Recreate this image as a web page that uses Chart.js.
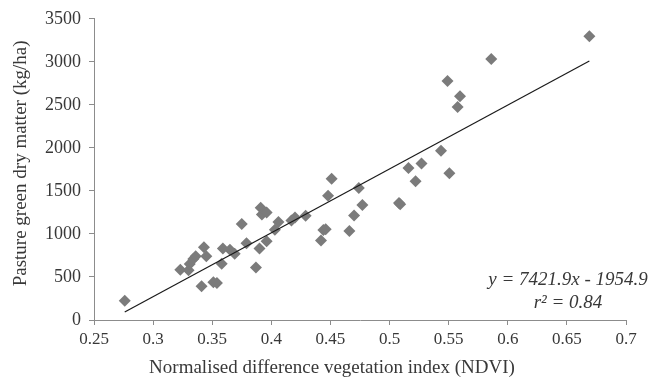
<!DOCTYPE html>
<html lang="en">
<head>
  <meta charset="UTF-8">
  <title>NDVI vs pasture green dry matter</title>
  <script src="https://cdn.jsdelivr.net/npm/chart.js"></script>
  <style>
    body {
      margin: 0;
      padding: 0;
      background-color: #fff;
    }

    #chartBox {
      width: 652px;
      height: 379px;
    }
  </style>
</head>
<body>
  <div id="chartBox">
    <canvas id="ndviChart" width="652" height="379"></canvas>
  </div>

  <script>
    // observed points (NDVI, kg/ha)
    const ndvi = [
      0.276, 0.323, 0.330, 0.331, 0.334, 0.336, 0.343, 0.341, 0.345, 0.351,
      0.354, 0.358, 0.359, 0.365, 0.369, 0.375, 0.379, 0.387, 0.390, 0.391,
      0.392, 0.396, 0.396, 0.403, 0.406, 0.417, 0.420, 0.429, 0.444, 0.446,
      0.442, 0.448, 0.451, 0.466, 0.470, 0.474, 0.477, 0.508, 0.509, 0.516,
      0.522, 0.527, 0.5435, 0.5506, 0.549, 0.5596, 0.5576, 0.586, 0.669
    ];
    const dryMatter = [
      225, 585, 578, 650, 710, 740, 845, 393, 740, 440,
      430, 655, 830, 815, 770, 1115, 893, 610, 830, 1305,
      1225, 1250, 915, 1050, 1140, 1155, 1190, 1210, 1045, 1055,
      925, 1445, 1640, 1035, 1215, 1535, 1335, 1360, 1345, 1766,
      1611, 1819, 1966, 1704, 2776, 2599, 2475, 3034, 3296
    ];

    // linear fit shown on the chart
    const slope = 7421.9;
    const intercept = -1954.9;
    const fitRange = [0.276, 0.669];
    const equationLines = ['y = 7421.9x - 1954.9', 'r\u00b2 = 0.84'];

    const xLabel = 'Normalised difference vegetation index (NDVI)';
    const yLabel = 'Pasture green dry matter (kg/ha)';

    const serif = "'Liberation Serif', 'Times New Roman', serif";
    const axisGrey = '#8c8c8c';
    const textColor = '#383838';

    const points = ndvi.map((x, i) => ({ x: x, y: dryMatter[i] }));
    const fitLine = fitRange.map(x => ({ x: x, y: slope * x + intercept }));

    // equation box and axis titles (titles sit off-centre in the original)
    const labelsPlugin = {
      id: 'labels',
      afterDraw(chart) {
        const ctx = chart.ctx;
        const area = chart.chartArea;
        ctx.save();
        ctx.fillStyle = textColor;
        ctx.textAlign = 'center';
        ctx.textBaseline = 'middle';

        ctx.font = 'italic 19px ' + serif;
        const cx = area.right - 58;
        ctx.fillText(equationLines[0], cx, area.bottom - 40);
        ctx.fillText(equationLines[1], cx, area.bottom - 17);

        ctx.font = '19px ' + serif;
        ctx.fillText(xLabel, 332, chart.height - 11);

        ctx.translate(21, (area.top + area.bottom) / 2 - 6);
        ctx.rotate(-Math.PI / 2);
        ctx.fillText(yLabel, 0, 0);
        ctx.restore();
      }
    };

    const ctx = document.getElementById('ndviChart').getContext('2d');
    const ndviChart = new Chart(ctx, {
      type: 'scatter',
      data: {
        datasets: [
          {
            label: 'Observed',
            data: points,
            pointStyle: 'rectRot',
            pointRadius: 6,
            pointBackgroundColor: '#7b7b7b',
            pointBorderWidth: 0,
            order: 2
          },
          {
            label: 'Linear fit',
            type: 'line',
            data: fitLine,
            borderColor: '#1a1a1a',
            borderWidth: 1.2,
            pointRadius: 0,
            fill: false,
            order: 1
          }
        ]
      },
      options: {
        responsive: false,
        animation: false,
        layout: {
          padding: { left: 0, right: 26, top: 17, bottom: 0 }
        },
        plugins: {
          legend: { display: false },
          tooltip: { enabled: false }
        },
        scales: {
          x: {
            type: 'linear',
            min: 0.25,
            max: 0.7,
            border: { color: axisGrey, width: 1 },
            grid: {
              drawOnChartArea: false,
              drawTicks: true,
              tickLength: 5,
              color: axisGrey
            },
            ticks: {
              stepSize: 0.05,
              padding: 4,
              color: textColor,
              font: { family: serif, size: 17 },
              callback: v => String(+v.toFixed(2))
            },
            afterFit(scale) {
              scale.height = 59;
            }
          },
          y: {
            type: 'linear',
            min: 0,
            max: 3500,
            border: { color: axisGrey, width: 1 },
            grid: {
              drawOnChartArea: false,
              drawTicks: true,
              tickLength: 5,
              color: axisGrey
            },
            ticks: {
              stepSize: 500,
              padding: 8,
              color: textColor,
              font: { family: serif, size: 18 },
              callback: v => String(v)
            },
            afterFit(scale) {
              scale.width = 94;
            }
          }
        }
      },
      plugins: [labelsPlugin]
    });
  </script>
</body>
</html>
